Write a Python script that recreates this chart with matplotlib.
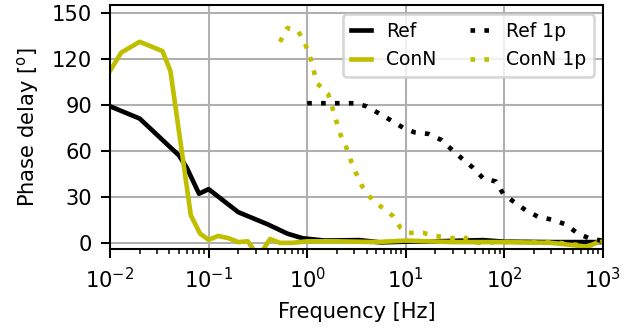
import numpy as np
import matplotlib
matplotlib.use("Agg")
import matplotlib.pyplot as plt

# Data
ref_f = [0.01, 0.02, 0.05, 0.06, 0.08, 0.1, 0.2, 0.4, 0.63, 0.9, 1.5, 3.4, 5.5, 10, 20, 60, 100, 300, 1000]
ref_v = [89, 81, 57, 49, 32, 35, 20, 12, 6, 3, 1.5, 1.8, 0.3, 0.8, 1.0, 1.8, 0.8, 0.5, 0.5]

conn_f = [0.01, 0.013, 0.02, 0.034, 0.041, 0.066, 0.082, 0.1, 0.125, 0.16, 0.2, 0.25, 0.32,
          0.42, 0.53, 0.7, 1, 2, 5, 10, 30, 100, 300, 700, 1000]
conn_v = [112, 124, 131, 125, 112, 18, 6, 2, 4.5, 3, 0.5, 1, -9,
          2.5, 0, 0, 1, 1, 0.5, 1.5, 0.5, 0.5, 0, -2.5, 2]

ref1p_f = [1, 1.4, 2, 3, 4, 5.3, 7, 9.4, 12.3, 17, 23, 29, 37, 48, 61, 82, 97, 129, 167,
           220, 310, 420, 545, 720, 1000]
ref1p_v = [91, 91, 91, 91, 89, 84.5, 80, 75, 72, 71, 67, 61, 55, 49, 42, 40, 32, 26, 21,
           17, 15, 12, 6.5, 3, 1.3]

conn1p_f = [0.53, 0.63, 0.81, 0.95, 1.07, 1.26, 1.63, 1.8, 2.16, 2.5, 2.8, 3.15, 3.6, 4.3,
            5.5, 7.4, 8.8, 10.7, 15, 20, 29, 38, 50, 100, 300, 700, 1000]
conn1p_v = [131, 140, 138, 130, 121, 104, 97, 88, 71, 62, 53, 45, 37, 30,
            24, 17.5, 10, 6.5, 6.5, 4.5, 3, 4, 0, 0.5, 0.5, -2, 1]

yticks = [0, 30, 60, 90, 120, 150]

plt.rcParams['font.size'] = 8.2
plt.rcParams['font.family'] = ['DejaVu Sans']

DPI = 185
fig = plt.figure(figsize=(638 / DPI, 330 / DPI), dpi=DPI)
ax = fig.add_axes([110 / 638, 81 / 330, 493 / 638, 244 / 330])

lw = 1.8
dot = (0, (1, 2))
ax.plot(ref_f, ref_v, color='k', lw=lw, label='Ref')
ax.plot(conn_f, conn_v, color='y', lw=lw, label='ConN')
ax.plot(ref1p_f, ref1p_v, color='k', lw=lw, linestyle=dot, label='Ref 1p')
ax.plot(conn1p_f, conn1p_v, color='y', lw=lw, linestyle=dot, label='ConN 1p')

ax.set_xscale('log')
ax.set_xlim(1e-2, 1e3)
ax.set_ylim(-4, 155)
ax.set_yticks(yticks)
ax.grid(True, which='major', color='#b0b0b0', lw=0.8)
ax.set_axisbelow(True)
ax.set_xlabel('Frequency [Hz]')
ax.set_ylabel(r'Phase delay [$^\mathrm{o}$]')
ax.legend(loc='upper right', ncol=2, handlelength=1.1, fontsize=7.3, columnspacing=1.8)

fig.savefig('out.png', dpi=DPI)
